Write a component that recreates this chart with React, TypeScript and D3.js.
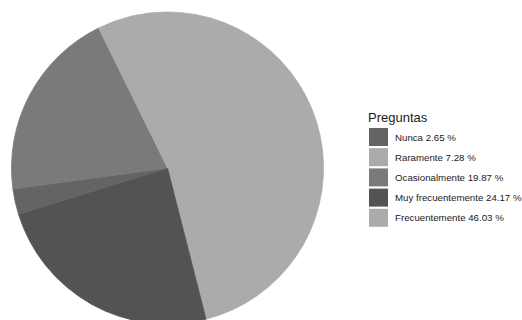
import React from "react";
import * as d3 from "d3";

// Pie order (clockwise from 12 o'clock, alphabetical)
const pieCategories = ["Frecuentemente", "Muy frecuentemente", "Nunca", "Ocasionalmente", "Raramente"];
const pieValues = [46.03, 24.17, 2.65, 19.87, 7.28];

// Legend order
const legendCategories = ["Nunca", "Raramente", "Ocasionalmente", "Muy frecuentemente", "Frecuentemente"];
const legendValues = [2.65, 7.28, 19.87, 24.17, 46.03];

const colorMap: Record<string, string> = {
  Nunca: "#646464",
  Raramente: "#ababab",
  Ocasionalmente: "#7a7a7a",
  "Muy frecuentemente": "#535353",
  Frecuentemente: "#ababab",
};

export default function App() {
  const W = 522, H = 320;
  const cx = 167.5, cy = 168, r = 156;
  const data = pieCategories.map((c, i) => ({ c, v: pieValues[i] }));
  const pie = d3.pie<{ c: string; v: number }>().value((d) => d.v).sort(null);
  const arc = d3.arc<d3.PieArcDatum<{ c: string; v: number }>>().innerRadius(0).outerRadius(r);
  const arcs = pie(data);

  const lx = 369, ly0 = 128, step = 20.2, sw = 19, sh = 18;

  return (
    <svg width={W} height={H} style={{ position: "absolute", left: 0, top: 0, display: "block" }}
      fontFamily="Liberation Sans, Arial, sans-serif">
      <rect width={W} height={H} fill="#ffffff" />
      <g transform={`translate(${cx},${cy})`}>
        {arcs.map((a) => (
          <path key={a.data.c} d={arc(a) || ""} fill={colorMap[a.data.c]}
            stroke={colorMap[a.data.c]} strokeWidth={0.8} strokeLinejoin="round" />
        ))}
      </g>
      <text x={368} y={122} fontSize={13} fill="#1a1a1a">Preguntas</text>
      {legendCategories.map((c, i) => (
        <g key={c} transform={`translate(${lx},${ly0 + i * step})`}>
          <rect width={sw} height={sh} fill={colorMap[c]} />
          <text x={26} y={sh / 2 + 3.6} fontSize={9.7} fill="#1a1a1a">
            {`${c} ${legendValues[i].toFixed(2)} %`}
          </text>
        </g>
      ))}
    </svg>
  );
}
